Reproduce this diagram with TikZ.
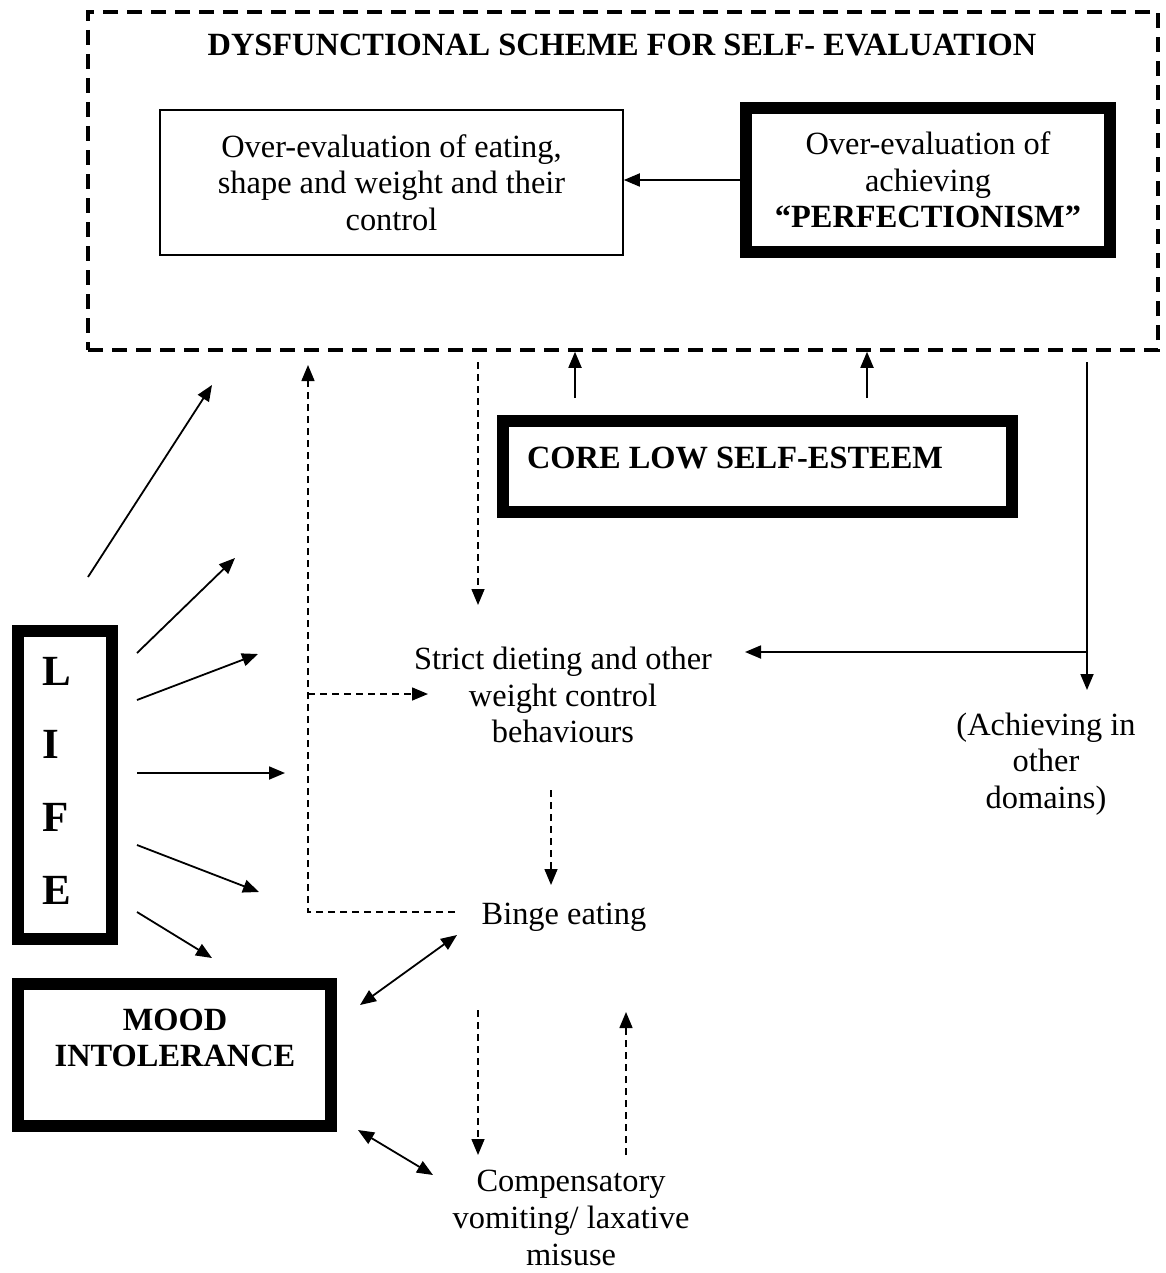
\documentclass[tikz,border=0pt]{standalone}
\usepackage{fontspec}
\setmainfont{Liberation Serif}
\usetikzlibrary{arrows.meta}
\tikzset{
  txt/.style={font=\fontsize{16.2}{18.3}\selectfont,align=center,inner sep=0pt},
  bold/.style={font=\fontsize{16.2}{18.3}\selectfont\bfseries,align=center,inner sep=0pt},
  thinbox/.style={draw,line width=0.8pt,inner sep=0pt},
  thickbox/.style={draw,line width=6pt,inner sep=0pt},
  link/.style={->,line width=0.9pt},
  dlink/.style={->,line width=0.75pt,dash pattern=on 3.5pt off 2.5pt},
}
\begin{document}
\begin{tikzpicture}[x=0.5pt,y=-0.5pt,>={Triangle[length=8pt,width=6.5pt]}]
\useasboundingbox (0,0) rectangle (1166,1273);
\node[draw,line width=1.75pt,dash pattern=on 7.5pt off 4.5pt,minimum width=535pt,minimum height=169pt] (scheme) at (623,181) {};
\node[bold] (title) at (622,45) {DYSFUNCTIONAL SCHEME FOR SELF- EVALUATION};
\node[thinbox,txt,minimum width=231.5pt,minimum height=72.5pt] (over) at (391.5,182.5) {Over-evaluation of eating,\\shape and weight and their\\control};
\node[thickbox,txt,minimum width=182pt,minimum height=72pt] (perf) at (928,180) {Over-evaluation of\\achieving\\\textbf{“PERFECTIONISM”}};
\draw[link] (perf.west) -- (perf.west -| over.east);
\node[thickbox,minimum width=254.5pt,minimum height=45.5pt] (core) at (757.5,466.5) {};
\node[bold] (coretxt) at (735,458) {CORE LOW SELF-ESTEEM};
\coordinate (c1) at (575,398);
\coordinate (c2) at (867,398);
\draw[link] (c1) -- (c1 |- scheme.south);
\draw[link] (c2) -- (c2 |- scheme.south);
\node[txt] (diet) at (563,695) {Strict dieting and other\\weight control\\behaviours};
\node[txt] (achieve) at (1046,764) {(Achieving in\\other\\domains)};
\node[txt] (binge) at (564,917) {Binge eating};
\node[txt] (comp) at (571,1218) {Compensatory\\vomiting/ laxative\\misuse};
\coordinate (s1) at (478,362);
\coordinate (d1) at (478,605);
\draw[dlink] (s1) -- (d1);
\coordinate (s2) at (1087,362);
\coordinate (a1) at (1087,690);
\coordinate (d2) at (745,652);
\draw[link] (s2) -- (a1);
\draw[link] (s2 |- d2) -- (d2);
\coordinate (d3) at (551,790);
\coordinate (b1) at (551,885);
\draw[dlink] (d3) -- (b1);
\coordinate (b2) at (455,912);
\coordinate (s3) at (308,365);
\coordinate (d4) at (428,694);
\draw[dlink] (b2) -| (s3);
\draw[dlink] (s3 |- d4) -- (d4);
\node[thickbox,minimum width=47pt,minimum height=154pt] (life) at (65,785) {};
\node[font=\fontsize{21.5}{36.5}\selectfont\bfseries,align=left,inner sep=0pt,anchor=west] (lifetxt) at (42,781) {L\\I\\F\\E};
\node[thickbox,minimum width=156.5pt,minimum height=71pt] (mood) at (174.5,1055) {};
\node[bold] (moodtxt) at (175,1038) {MOOD\\INTOLERANCE};
\foreach \a/\b [count=\i] in {{88,577}/{212,385},{137,653}/{235,558},{137,700}/{258,654},{137,773}/{285,773},{137,845}/{259,892},{137,912}/{212,958}}{
  \coordinate (l\i) at (\a);
  \coordinate (t\i) at (\b);
  \draw[link] (l\i) -- (t\i);
}
\coordinate (m1) at (360,1005);
\coordinate (b3) at (457,935);
\draw[link,<->] (m1) -- (b3);
\coordinate (m2) at (358,1130);
\coordinate (c3) at (433,1175);
\draw[link,<->] (m2) -- (c3);
\coordinate (b4) at (478,1010);
\coordinate (c4) at (478,1155);
\draw[dlink] (b4) -- (c4);
\coordinate (c5) at (626,1155);
\coordinate (b5) at (626,1012);
\draw[dlink] (c5) -- (b5);
\end{tikzpicture}
\end{document}
